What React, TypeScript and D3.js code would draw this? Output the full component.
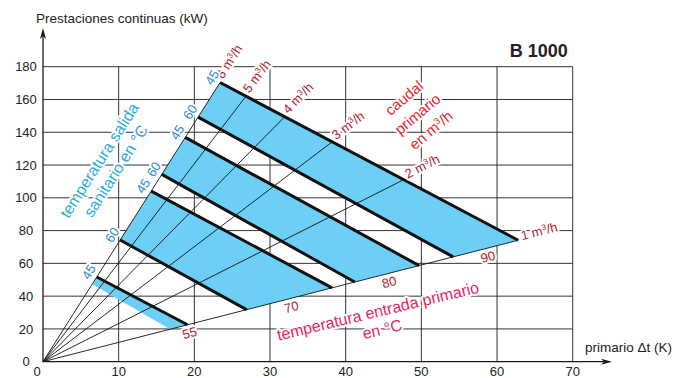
import React from 'react';
import * as d3 from 'd3';

const W = 678;
const H = 378;

const xTicks = [0, 10, 20, 30, 40, 50, 60, 70];
const yTicks = [0, 20, 40, 60, 80, 100, 120, 140, 160, 180];

// primary flow rates (m³/h) and the slope of each flow line (kW per K of Δt)
const flowRates = [1, 2, 3, 4, 5, 6];
const flowSlopes = [1.18, 2.33, 3.51, 4.68, 6.04, 7.28];

// operating lines: primary inlet / sanitary outlet temperature (°C),
// with the Δt where each line meets the 6 m³/h line and the 1 m³/h line
const inletTemps = [90, 90, 80, 80, 70, 70, 55];
const outletTemps = [45, 60, 45, 60, 45, 60, 45];
const dtAtMaxFlow = [23.4, 20.5, 18.8, 15.7, 14.3, 10.2, 7.1];
const dtAtMinFlow = [62.8, 54.2, 49.7, 41.2, 38.2, 26.9, 19.1];

// shaded bands: [upper line, lower line]
const bandPairs = [
  [0, 1],
  [2, 3],
  [4, 5],
];
// lower edge of the narrow 55 °C band (Δt at 6 m³/h, Δt at 1 m³/h)
const band55Edge = [6.5, 16.8];

const FONT = '"Liberation Sans", Arial, Helvetica, sans-serif';
const BLUE_FILL = '#6dcff6';
const DARK_RED = '#b3202b';
const LABEL_BLUE = '#2a8bd2';
const CYAN = '#27aae1';
const RED = '#e4252e';
const PINK = '#e6245e';

const x = d3.scaleLinear().domain([0, 70]).range([43, 572.7]);
const y = d3.scaleLinear().domain([0, 180]).range([361.7, 66.7]);

const sMin = flowSlopes[0];
const sMax = flowSlopes[flowSlopes.length - 1];

type Pt = [number, number];
const onFlow = (dt: number, s: number): Pt => [dt, dt * s];
const lineStart = (i: number) => onFlow(dtAtMaxFlow[i], sMax);
const lineEnd = (i: number) => onFlow(dtAtMinFlow[i], sMin);

const toPx = (p: Pt): Pt => [x(p[0]), y(p[1])];
const line = d3
  .line<Pt>()
  .x((d) => x(d[0]))
  .y((d) => y(d[1]));

// where a flow line meets the top operating line
function flowEnd(s: number): Pt {
  const a = lineStart(0);
  const b = lineEnd(0);
  const dx = b[0] - a[0];
  const dy = b[1] - a[1];
  const t = (s * a[0] - a[1]) / (dy - s * dx);
  return [a[0] + t * dx, a[1] + t * dy];
}

// on-screen angle (degrees) of a flow line
const flowAngle = (s: number) =>
  (Math.atan2(y(s * 10) - y(0), x(10) - x(0)) * 180) / Math.PI;

// label drawn over a white knock-out copy of itself, so grid lines break around it
function HaloText(props: any) {
  const { children, fill, ...rest } = props;
  return (
    <g>
      <text {...rest} fill="#fff" stroke="#fff" strokeWidth={4} strokeLinejoin="round">
        {children}
      </text>
      <text {...rest} fill={fill}>
        {children}
      </text>
    </g>
  );
}

// "m³/h" with a raised small 3
function Unit() {
  return (
    <>
      <tspan>m</tspan>
      <tspan fontSize="0.62em" dy="-0.55em">3</tspan>
      <tspan dy="0.34em">/h</tspan>
    </>
  );
}

export default function App() {
  const bands: Pt[][] = bandPairs.map(([u, l]) => [
    lineStart(u),
    lineEnd(u),
    lineEnd(l),
    lineStart(l),
  ]);
  bands.push([
    lineStart(6),
    lineEnd(6),
    onFlow(band55Edge[1], sMin),
    onFlow(band55Edge[0], sMax),
  ]);

  const angMax = flowAngle(sMax);
  const angMin = flowAngle(sMin);

  const temps = Array.from(new Set(inletTemps));
  const tempLabels = temps.map((t) => {
    const idx = inletTemps.map((v, i) => (v === t ? i : -1)).filter((i) => i >= 0);
    const pts = idx.map((i) => toPx(lineEnd(i)));
    return {
      t,
      px: d3.mean(pts, (p) => p[0]) as number,
      py: d3.mean(pts, (p) => p[1]) as number,
    };
  });

  return (
    <svg
      width={W}
      height={H}
      style={{ position: 'absolute', left: 0, top: 0, background: '#fff' }}
      fontFamily={FONT}
    >
      {/* grid */}
      <g stroke="#333" strokeWidth={1} fill="none">
        {xTicks
          .filter((v) => v > 0)
          .map((v) => (
            <line key={'gx' + v} x1={x(v)} x2={x(v)} y1={y(0)} y2={y(180)} />
          ))}
        {yTicks
          .filter((v) => v > 0)
          .map((v) => (
            <line key={'gy' + v} x1={x(0)} x2={x(70)} y1={y(v)} y2={y(v)} />
          ))}
      </g>

      {/* shaded bands */}
      {bands.map((b, i) => (
        <path key={'b' + i} d={line(b.concat([b[0]])) as string} fill={BLUE_FILL} stroke="none" />
      ))}

      {/* flow lines from the origin */}
      <g stroke="#111" strokeWidth={0.9} fill="none">
        {flowSlopes.map((s, i) => (
          <path key={'f' + i} d={line([[0, 0], flowEnd(s)]) as string} />
        ))}
      </g>

      {/* operating lines */}
      <g stroke="#111" strokeWidth={3} fill="none">
        {dtAtMaxFlow.map((_, i) => (
          <path key={'o' + i} d={line([lineStart(i), lineEnd(i)]) as string} />
        ))}
      </g>

      {/* axes */}
      <g stroke="#1a1a1a" strokeWidth={1.3} fill="none">
        <line x1={x(0)} x2={x(0)} y1={y(0)} y2={34} />
        <line x1={x(0)} x2={606} y1={y(0)} y2={y(0)} />
      </g>
      <path
        d={`M${x(0)},28 L${x(0) - 3},39 L${x(0)},36 L${x(0) + 3},39 Z`}
        fill="#1a1a1a"
      />
      <path
        d={`M612,${y(0)} L601,${y(0) - 3} L604,${y(0)} L601,${y(0) + 3} Z`}
        fill="#1a1a1a"
      />

      {/* tick labels */}
      <g fontSize={13} fill="#222">
        {xTicks.map((v) => (
          <text key={'tx' + v} x={x(v) + (v === 0 ? -6 : 0)} y={376.3} textAnchor="middle">
            {v}
          </text>
        ))}
        {yTicks.map((v) => (
          <text key={'ty' + v} x={26} y={y(v) + 4.6} textAnchor="middle">
            {v}
          </text>
        ))}
      </g>

      {/* axis titles */}
      <text x={36} y={22.5} fontSize={13.5} fill="#222">
        Prestaciones continuas (kW)
      </text>
      <text x={585} y={351.5} fontSize={13.5} fill="#222">
        primario Δt (K)
      </text>
      <text x={567.7} y={56.7} fontSize={18} fontWeight="bold" fill="#222" textAnchor="end">
        B 1000
      </text>

      {/* flow rate labels */}
      {flowSlopes.map((s, i) => {
        const [px, py] = toPx(flowEnd(s));
        return (
          <HaloText
            key={'fl' + i}
            transform={`translate(${px},${py}) rotate(${flowAngle(s)})`}
            x={4}
            y={1}
            fontSize={13}
            fill={DARK_RED}
          >
            {flowRates[i]} <Unit />
          </HaloText>
        );
      })}

      {/* sanitary outlet temperature labels */}
      {outletTemps.map((t, i) => {
        const [px, py] = toPx(lineStart(i));
        return (
          <HaloText
            key={'ot' + i}
            transform={`translate(${px},${py}) rotate(${angMax})`}
            x={0}
            y={-5}
            textAnchor="middle"
            fontSize={13}
            fill={LABEL_BLUE}
          >
            {t}
          </HaloText>
        );
      })}

      {/* primary inlet temperature labels */}
      {tempLabels.map((d) => (
        <HaloText
          key={'it' + d.t}
          transform={`translate(${d.px},${d.py}) rotate(${angMin})`}
          x={0}
          y={13}
          textAnchor="middle"
          fontSize={13}
          fill={DARK_RED}
        >
          {d.t}
        </HaloText>
      ))}

      {/* descriptive labels */}
      <HaloText
        transform={`translate(107.3,165.5) rotate(${angMax})`}
        fontSize={16}
        fill={CYAN}
        textAnchor="middle"
      >
        <tspan x={0} y={-4}>temperatura salida</tspan>
        <tspan x={0} y={15.6}>sanitario en °C</tspan>
      </HaloText>

      <HaloText
        transform="translate(417.7,114.2) rotate(-40)"
        fontSize={15}
        fill={RED}
        textAnchor="middle"
      >
        <tspan x={0} y={-16}>caudal</tspan>
        <tspan x={0} y={5}>primario</tspan>
        <tspan x={0} y={26}>en <Unit /></tspan>
      </HaloText>

      <HaloText
        transform="translate(380,320) rotate(-13.5)"
        fontSize={16}
        fill={PINK}
        textAnchor="middle"
      >
        <tspan x={0} y={-3.5}>temperatura entrada primario</tspan>
        <tspan x={0} y={15}>en °C</tspan>
      </HaloText>
    </svg>
  );
}
